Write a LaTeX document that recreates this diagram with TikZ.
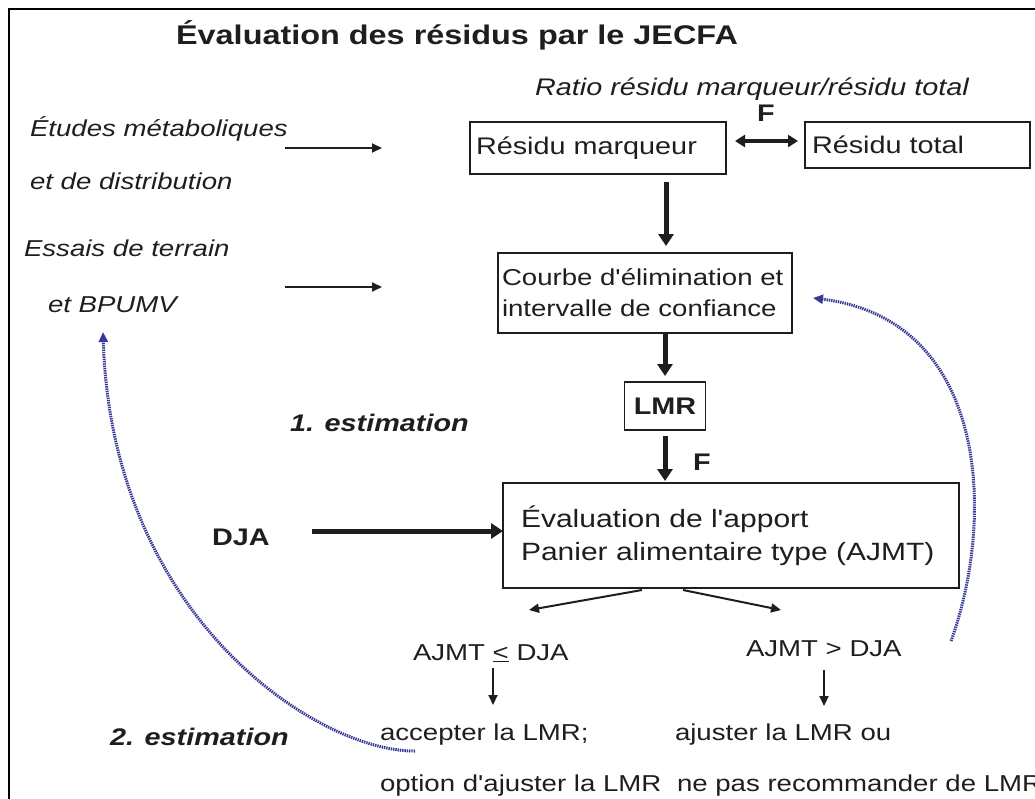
\documentclass[tikz,border=0pt]{standalone}
\usepackage{fontspec}
\setmainfont[FakeStretch=1.2, Ligatures=TeXOff]{Liberation Sans}
\usetikzlibrary{arrows.meta}
\definecolor{txt}{RGB}{30,30,30}
\definecolor{dotblue}{RGB}{55,55,150}
\begin{document}
\begin{tikzpicture}[x=1pt,y=-1pt,
  every node/.style={inner sep=0pt, outer sep=0pt, text=txt},
  body/.style={font=\fontsize{24}{31}\selectfont},
  ital/.style={font=\fontsize{23}{30}\selectfont\itshape},
  bit/.style={font=\fontsize{24}{30}\selectfont\bfseries\itshape},
  bld/.style={font=\fontsize{24}{30}\selectfont\bfseries},
  ttl/.style={font=\fontsize{27}{31}\selectfont\bfseries},
  small/.style={font=\fontsize{23}{28}\selectfont},
  box/.style={draw=txt, line width=1.2pt, anchor=north west, align=left, body},
  thinarr/.style={draw=txt, line width=2pt, -{Triangle[length=10pt,width=9pt]}},
  thickarr/.style={draw=txt, line width=5pt, -{Triangle[length=12pt,width=15pt]}},
  looparr/.style={draw=dotblue, line width=3pt, dash pattern=on 1.4pt off 0.9pt, -{Triangle[length=10pt,width=9pt]}}
]
\useasboundingbox (0,0) rectangle (1035,798);
% frame
\draw[line width=2.5pt, black] (9,800) -- (9,9) -- (1040,9);

% title and headers
\node[ttl, anchor=base] (title) at (457,44) {Évaluation des résidus par le JECFA};
\node[ital, font=\fontsize{24}{30}\selectfont\itshape, anchor=base] (ratio) at (752,95) {Ratio résidu marqueur/résidu total};

% left inputs
\node[ital, anchor=base west] (etu1) at (30,136) {Études métaboliques};
\node[ital, anchor=base west] (etu2) at (30,189) {et de distribution};
\node[ital, anchor=base west] (ess1) at (24,256) {Essais de terrain};
\node[ital, anchor=base west] (ess2) at (48,312) {et BPUMV};

% boxes
\node[box, minimum width=256, minimum height=52, text width=244, inner xsep=6] (rm) at (470,122) {\mbox{Résidu marqueur}};
\node[box, minimum width=225, minimum height=46, text width=211, inner xsep=7] (rt) at (805,122) {\mbox{Résidu total}};
\node[box, font=\fontsize{23}{31}\selectfont, minimum width=294, minimum height=80, text width=286, inner xsep=4] (cb) at (498,253) {\mbox{Courbe d'élimination et}\\\mbox{intervalle de confiance}};
\node[draw=txt, line width=1.2pt, bld, minimum width=81, minimum height=48] (lmr) at (665,406) {LMR};
\node[box, minimum width=456, minimum height=105, text width=420, inner xsep=18, font=\fontsize{25}{33}\selectfont] (ev) at (503,483) {\mbox{Évaluation de l'apport}\\\mbox{Panier alimentaire type (AJMT)}};

% labels
\node[bld, anchor=base] (f1) at (766,121) {F};
\node[bld, anchor=base] (f2) at (702,470) {F};
\node[bit, anchor=base west] (est1) at (290,431) {1. estimation};
\node[bit, anchor=base west] (est2) at (110,745) {2. estimation};
\node[bld, anchor=base west] (dja) at (212,545) {DJA};

% outcomes
\node[small, anchor=base west] (le) at (413,660) {AJMT \underline{<} DJA};
\node[small, anchor=base west] (gt) at (746,656) {AJMT > DJA};
\node[small, anchor=base west] (acc) at (380,740) {accepter la LMR;};
\node[small, anchor=base west] (opt) at (380,791) {option d'ajuster la LMR};
\node[small, anchor=base west] (adj) at (675,740) {ajuster la LMR ou};
\node[small, anchor=base west] (nep) at (677,791) {ne pas recommander de LMR};

% coordinates for free ends
\coordinate (a1s) at (285,148);
\coordinate (a1e) at (382,148);
\coordinate (a2s) at (285,287);
\coordinate (a2e) at (382,287);
\coordinate (da1) at (735,141);
\coordinate (da2) at (798,141);
\coordinate (djs) at (312,531);
\coordinate (bl) at (529,610);
\coordinate (br) at (781,610);
\coordinate (l1) at (415,751);
\coordinate (l1e) at (103,332);
\coordinate (r1) at (951,641);
\coordinate (r1e) at (813,298);

% arrows
\draw[thinarr] (a1s) -- (a1e);
\draw[thinarr] (a2s) -- (a2e);
\draw[draw=txt, line width=4pt, {Triangle[length=10pt,width=12pt]}-{Triangle[length=10pt,width=12pt]}] (da1) -- (da2);
\draw[thickarr] ([xshift=68pt,yshift=-8pt]rm.south) -- ([yshift=7pt]cb.north -| 666,0);
\draw[thickarr] (cb.south -| lmr.north) -- ([yshift=6pt]lmr.north);
\draw[thickarr] ([yshift=-6pt]lmr.south) -- ([yshift=2pt]ev.north -| lmr.south);
\draw[draw=txt, line width=5pt, -{Triangle[length=12pt,width=15pt]}] (djs) -- (ev.west |- djs);
\draw[thinarr] ([xshift=-89pt,yshift=-2pt]ev.south) -- (bl);
\draw[thinarr] ([xshift=-48pt,yshift=-2pt]ev.south) -- (br);
\draw[thinarr] ([xshift=80pt,yshift=-8pt]le.base west) -- ([xshift=80pt,yshift=-45pt]le.base west);
\draw[thinarr] ([xshift=78pt,yshift=-14pt]gt.base west) -- ([xshift=78pt,yshift=-50pt]gt.base west);

% feedback loops
\draw[looparr] (l1) .. controls (320,752) and (112,620) .. (l1e);
\draw[looparr] (r1) .. controls (995,520) and (990,320) .. (r1e);
\end{tikzpicture}
\end{document}
